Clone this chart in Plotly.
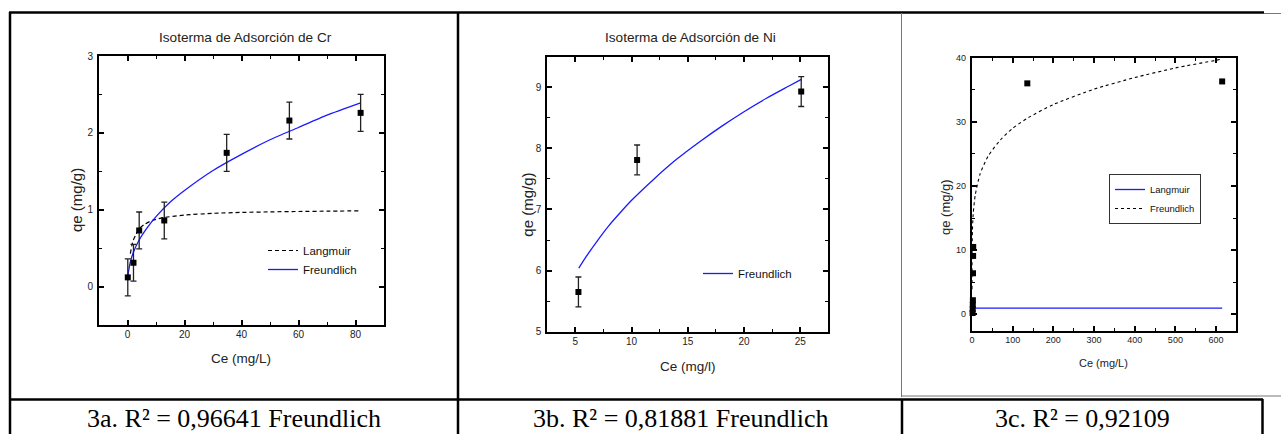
import plotly.graph_objects as go

W, H = 1281, 434

# ---------------- data ----------------
# 3a: Cr
cr_ce = [0.1, 2.1, 4.1, 12.9, 34.8, 56.8, 81.8]
cr_qe = [0.12, 0.31, 0.73, 0.86, 1.74, 2.16, 2.26]
cr_err = [0.24, 0.24, 0.24, 0.24, 0.24, 0.24, 0.24]
cr_freundlich_ce = [0.05, 0.3, 1, 2, 4, 7, 10, 15, 20, 30, 40, 50, 60, 70, 81.8]
cr_freundlich_qe = [0.08, 0.18, 0.32, 0.44, 0.60, 0.77, 0.91, 1.10, 1.25, 1.51, 1.72, 1.91, 2.07, 2.23, 2.39]
cr_langmuir_ce = [1, 1.5, 2, 3, 4, 6, 8, 10, 13, 20, 30, 40, 50, 60, 70, 81]
cr_langmuir_qe = [0.43, 0.53, 0.60, 0.68, 0.75, 0.81, 0.85, 0.875, 0.90, 0.93, 0.953, 0.965, 0.972, 0.977, 0.981, 0.985]

# 3b: Ni
ni_ce = [5.27, 10.49, 25.09]
ni_qe = [5.65, 7.81, 8.93]
ni_err = [0.245, 0.245, 0.245]
ni_freundlich_ce = [5.3, 6, 7, 8, 9, 10, 12, 14, 16, 18, 20, 22, 24, 25.1]
ni_freundlich_qe = [6.04, 6.24, 6.50, 6.74, 6.95, 7.15, 7.50, 7.82, 8.10, 8.36, 8.60, 8.82, 9.02, 9.13]

# 3c
c_ce = [1.5, 1.8, 2.0, 2.2, 2.5, 2.8, 3.0, 136, 615]
c_qe = [0.2, 0.8, 1.5, 2.2, 6.4, 9.1, 10.5, 36.0, 36.3]
c_langmuir_ce = [0, 100, 300, 615]
c_langmuir_qe = [0.95, 0.95, 0.95, 0.95]
c_freundlich_ce = [0.001, 0.01, 0.05, 0.2, 1, 3, 8, 20, 40, 70, 100, 137, 200, 300, 400, 500, 600, 615]
c_freundlich_qe = [3.9, 5.8, 7.7, 9.8, 13.0, 15.7, 18.6, 21.9, 24.7, 27.2, 29.0, 30.6, 32.7, 35.1, 36.9, 38.4, 39.6, 39.8]

titles = ["Isoterma de Adsorción de Cr", "Isoterma de Adsorción de Ni"]
x_titles = ["Ce (mg/L)", "Ce (mg/l)", "Ce (mg/L)"]
y_title = "qe (mg/g)"
captions = ["3a. R² = 0,96641 Freundlich",
            "3b. R² = 0,81881 Freundlich",
            "3c. R² = 0,92109"]

# ---------------- helpers ----------------
def fx(p):
    return p / W

def fy(p):
    return 1 - p / H

SANS = "Liberation Sans, Arial, sans-serif"
SERIF = "Liberation Serif, Times New Roman, serif"
BLUE = "#1a1aff"

fig = go.Figure()

# --- panel 1 ---
fig.add_trace(go.Scatter(x=cr_langmuir_ce, y=cr_langmuir_qe, mode="lines", name="Langmuir",
                         line=dict(color="black", width=1.2, dash="4px,3px", shape="spline", smoothing=0.6),
                         xaxis="x", yaxis="y", legend="legend"))
fig.add_trace(go.Scatter(x=cr_freundlich_ce, y=cr_freundlich_qe, mode="lines", name="Freundlich",
                         line=dict(color=BLUE, width=1.3, shape="spline", smoothing=0.6),
                         xaxis="x", yaxis="y", legend="legend"))
fig.add_trace(go.Scatter(x=cr_ce, y=cr_qe, mode="markers", showlegend=False,
                         marker=dict(symbol="square", size=6, color="black"),
                         error_y=dict(type="data", array=cr_err, color="#222222", thickness=1.3, width=3),
                         xaxis="x", yaxis="y", cliponaxis=False))

# --- panel 2 ---
fig.add_trace(go.Scatter(x=ni_freundlich_ce, y=ni_freundlich_qe, mode="lines", name="Freundlich",
                         line=dict(color=BLUE, width=1.3, shape="spline", smoothing=0.6),
                         xaxis="x2", yaxis="y2", legend="legend2"))
fig.add_trace(go.Scatter(x=ni_ce, y=ni_qe, mode="markers", showlegend=False,
                         marker=dict(symbol="square", size=6, color="black"),
                         error_y=dict(type="data", array=ni_err, color="#222222", thickness=1.3, width=3),
                         xaxis="x2", yaxis="y2", cliponaxis=False))

# --- panel 3 ---
fig.add_trace(go.Scatter(x=c_langmuir_ce, y=c_langmuir_qe, mode="lines", name="Langmuir",
                         line=dict(color=BLUE, width=1.3),
                         xaxis="x3", yaxis="y3", legend="legend3"))
fig.add_trace(go.Scatter(x=c_freundlich_ce, y=c_freundlich_qe, mode="lines", name="Freundlich",
                         line=dict(color="black", width=1.1, dash="3px,3px", shape="spline", smoothing=0.6),
                         xaxis="x3", yaxis="y3", legend="legend3"))
fig.add_trace(go.Scatter(x=c_ce, y=c_qe, mode="markers", showlegend=False,
                         marker=dict(symbol="square", size=6, color="black"),
                         xaxis="x3", yaxis="y3", cliponaxis=False))


def axis(domain, rng, dtick, minor_dtick, anchor, tick0=0, size=10, standoff=2):
    return dict(domain=domain, range=rng, dtick=dtick, tick0=tick0, anchor=anchor,
                showgrid=False, zeroline=False, showline=True, linewidth=2, linecolor="black",
                mirror="allticks", ticks="inside", ticklen=5, tickwidth=1.5, tickcolor="black",
                minor=dict(ticks="inside", ticklen=3, tickwidth=1, tickcolor="black", dtick=minor_dtick,
                           showgrid=False),
                tickfont=dict(family=SANS, size=size, color="#222"), ticklabelstandoff=standoff)

layout = dict(
    width=W, height=H, margin=dict(l=0, r=0, t=0, b=0), template="none",
    paper_bgcolor="white", plot_bgcolor="white", showlegend=True,
    xaxis=axis([fx(99), fx(384)], [-10, 90], 20, 10, "y", standoff=-1),
    yaxis=axis([fy(325), fy(56)], [-0.5, 3], 1, 0.5, "x", standoff=2),
    xaxis2=axis([fx(547.3), fx(828.3)], [2.5, 27.5], 5, 2.5, "y2", tick0=5, standoff=-1),
    yaxis2=axis([fy(331.7), fy(56.7)], [5, 9.5], 1, 0.5, "x2", tick0=5, standoff=2),
    xaxis3=axis([fx(971.7), fx(1236)], [-0.7, 649], 100, 50, "y3", size=9, standoff=-1),
    yaxis3=axis([fy(331), fy(57.7)], [-2.6, 40], 10, 5, "x3", size=9, standoff=2),
    legend=dict(x=fx(263), y=fy(236), xanchor="left", yanchor="top", bgcolor="rgba(0,0,0,0)",
                borderwidth=0, font=dict(family=SANS, size=11.5, color="#111"), itemwidth=30),
    legend2=dict(x=fx(698), y=fy(259), xanchor="left", yanchor="top", bgcolor="rgba(0,0,0,0)",
                 borderwidth=0, font=dict(family=SANS, size=11.5, color="#111"), itemwidth=30),
    legend3=dict(x=fx(1109), y=fy(174), xanchor="left", yanchor="top", bgcolor="white",
                 bordercolor="#333", borderwidth=1, font=dict(family=SANS, size=9.5, color="#111"),
                 itemwidth=30),
)
fig.update_layout(**layout)

ann = []
# chart titles
ann.append(dict(x=fx(245), y=fy(37), text=titles[0]))
ann.append(dict(x=fx(690), y=fy(37), text=titles[1]))
for a in ann:
    a.update(xref="paper", yref="paper", showarrow=False, xanchor="center", yanchor="middle",
             font=dict(family=SANS, size=13.6, color="#222"))
# axis titles
xt = [(241.5, 358, 13.5), (687.5, 366, 13.5), (1103, 362.7, 11)]
for (px, py, s), t in zip(xt, x_titles):
    ann.append(dict(x=fx(px), y=fy(py), text=t, xref="paper", yref="paper", showarrow=False,
                    xanchor="center", yanchor="middle", font=dict(family=SANS, size=s, color="#222")))
yt = [(76, 200, 15), (526.7, 205, 15), (945, 207, 13)]
for px, py, s in yt:
    ann.append(dict(x=fx(px), y=fy(py), text=y_title, textangle=-90, xref="paper", yref="paper",
                    showarrow=False, xanchor="center", yanchor="middle",
                    font=dict(family=SANS, size=s, color="#222")))
# captions
cap_x = [234, 680, 1082]
for cx, text in zip(cap_x, captions):
    ann.append(dict(x=fx(cx), y=fy(418), xref="paper", yref="paper", showarrow=False,
                    xanchor="center", yanchor="middle", text=text,
                    font=dict(family=SERIF, size=26, color="black")))
fig.update_layout(annotations=ann)

# table borders
def hline(x0, x1, y, color="black", w=2.5):
    return dict(type="line", xref="paper", yref="paper", x0=fx(x0), x1=fx(x1), y0=fy(y), y1=fy(y),
                line=dict(color=color, width=w))

def vline(x, y0, y1, color="black", w=2.5):
    return dict(type="line", xref="paper", yref="paper", x0=fx(x), x1=fx(x), y0=fy(y0), y1=fy(y1),
                line=dict(color=color, width=w))

shapes = [
    hline(9, 1264, 12.5),
    hline(1264, 1281, 13.5, "#777", 1),
    vline(10, 12, 434),
    vline(458, 12, 434),
    vline(901.5, 13, 397, "#777", 1),
    vline(902, 399, 434),
    hline(9, 1263, 399.5),
    hline(902, 1281, 396, "#777", 1),
    vline(1262.5, 399, 434),
]
fig.update_layout(shapes=shapes)

fig.write_html("out.html", config={"displayModeBar": False},
               post_script="document.body.style.margin='0';document.body.style.overflow='hidden';")
